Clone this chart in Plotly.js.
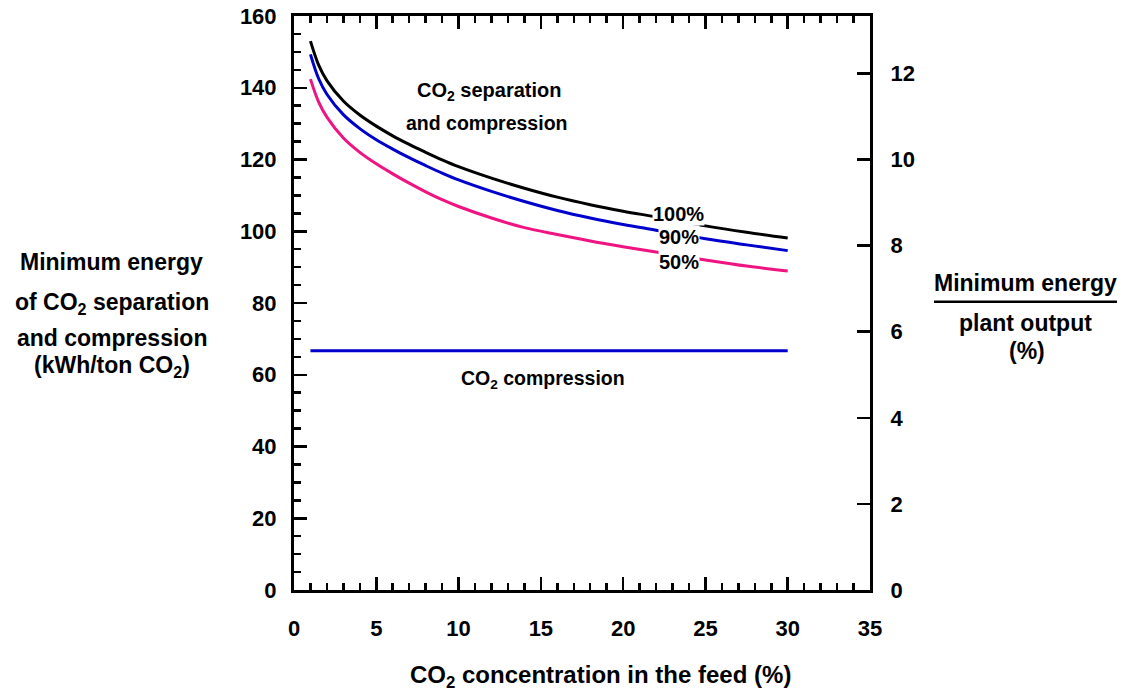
<!DOCTYPE html>
<html>
<head>
<meta charset="utf-8">
<script src="https://cdn.plot.ly/plotly-3.0.1.min.js"></script>
<style>
  html, body { margin: 0; padding: 0; background: #fff; }
  #chart { width: 1127px; height: 691px; }
</style>
</head>
<body>
<div id="chart"></div>
<script>
// CO2 concentration in the feed (%)
const feedConc = [1, 1.5, 2, 3, 4, 5, 6, 7, 8, 9, 10, 12, 14, 16, 18, 20, 22, 25, 27.5, 30];
// Minimum energy of CO2 separation and compression (kWh/ton CO2), by capture rate
const capture100 = [153.0, 146.3, 142.0, 136.3, 132.4, 129.3, 126.6, 124.2, 122.0, 119.9, 118.0, 114.8, 112.0, 109.5, 107.4, 105.6, 104.0, 101.5, 99.7, 98.1];
const capture90  = [149.3, 142.5, 138.2, 132.5, 128.6, 125.5, 122.9, 120.5, 118.3, 116.2, 114.3, 111.1, 108.3, 105.8, 103.7, 101.9, 100.3, 97.9, 96.2, 94.6];
const capture50  = [142.4, 136.0, 131.8, 126.0, 122.0, 118.8, 116.0, 113.4, 111.0, 108.8, 106.9, 103.7, 101.0, 99.1, 97.3, 95.7, 94.2, 92.0, 90.3, 88.9];
// CO2 compression only
const compressionX = [1, 30];
const compressionY = [66.7, 66.7];
// Series labels
const seriesLabels = ["100%", "90%", "50%"];

const FONT = "Arial, 'Liberation Sans', Helvetica, sans-serif";
const lineW = 3;

const traces = [
  {x: feedConc, y: capture100, mode: "lines", line: {color: "#000000", width: lineW, shape: "spline"}, name: seriesLabels[0]},
  {x: feedConc, y: capture90, mode: "lines", line: {color: "#0000cc", width: lineW, shape: "spline"}, name: seriesLabels[1]},
  {x: feedConc, y: capture50, mode: "lines", line: {color: "#f01482", width: lineW, shape: "spline"}, name: seriesLabels[2]},
  {x: compressionX, y: compressionY, mode: "lines", line: {color: "#0000cc", width: lineW}, name: "CO2 compression"},
  // invisible trace to activate the right axis
  {x: [0], y: [0], yaxis: "y2", mode: "markers", marker: {opacity: 0}, hoverinfo: "skip", showlegend: false}
];

function ann(text, x, y, xref, yref, size, extra) {
  return Object.assign({
    text: text, x: x, y: y, xref: xref, yref: yref,
    showarrow: false, xanchor: "center", yanchor: "middle",
    font: {family: FONT, size: size, color: "#000", weight: "bold"}
  }, extra || {});
}

const annotations = [
  // left title
  ann("Minimum energy", -0.316, 0.5706, "paper", "paper", 23),
  ann("of CO<sub>2</sub> separation", -0.316, 0.4983, "paper", "paper", 23),
  ann("and compression", -0.316, 0.4382, "paper", "paper", 23),
  ann("(kWh/ton CO<sub>2</sub>)", -0.316, 0.3902, "paper", "paper", 23),
  // right title
  ann("Minimum energy", 1.2691, 0.5357, "paper", "paper", 23),
  ann("plant output", 1.2708, 0.4650, "paper", "paper", 23),
  ann("(%)", 1.2726, 0.4170, "paper", "paper", 23),
  // x title
  ann("CO<sub>2</sub> concentration in the feed (%)", 0.5321, -0.1515, "paper", "paper", 24),
  // in-plot labels
  ann("CO<sub>2</sub> separation", 11.85, 138.9, "x", "y", 20),
  ann("and compression", 11.70, 130.2, "x", "y", 19.5),
  ann("CO<sub>2</sub> compression", 15.15, 58.8, "x", "y", 19.5),
  ann(seriesLabels[0], 23.35, 104.8, "x", "y", 20, {bgcolor: "#fff", borderpad: 0}),
  ann(seriesLabels[1], 23.4, 98.26, "x", "y", 20, {bgcolor: "#fff", borderpad: 0}),
  ann(seriesLabels[2], 23.4, 91.43, "x", "y", 20, {bgcolor: "#fff", borderpad: 0})
];

const tickFont = {family: FONT, size: 22, color: "#000", weight: "bold"};

const layout = {
  width: 1127, height: 691,
  margin: {l: 294, r: 257, t: 16, b: 101, pad: 0},
  paper_bgcolor: "#fff", plot_bgcolor: "#fff",
  showlegend: false,
  font: {family: FONT, color: "#000"},
  xaxis: {
    range: [0, 35], dtick: 5, tick0: 0,
    showgrid: false, zeroline: false,
    showline: true, linecolor: "#000", linewidth: 3, mirror: "ticks",
    ticks: "inside", ticklen: 13, tickwidth: 2.5, tickcolor: "#000",
    minor: {dtick: 1, ticks: "inside", ticklen: 7, tickwidth: 2.5, tickcolor: "#000", showgrid: false},
    tickfont: tickFont, ticklabelstandoff: 17
  },
  yaxis: {
    range: [0, 160], dtick: 20, tick0: 0,
    showgrid: false, zeroline: false,
    showline: true, linecolor: "#000", linewidth: 3, mirror: false,
    ticks: "inside", ticklen: 13, tickwidth: 2.5, tickcolor: "#000",
    minor: {dtick: 5, ticks: "inside", ticklen: 7, tickwidth: 2.5, tickcolor: "#000", showgrid: false},
    tickfont: tickFont, ticklabelstandoff: 10
  },
  yaxis2: {
    overlaying: "y", side: "right",
    range: [0, 160 / 12], dtick: 2, tick0: 0,
    showgrid: false, zeroline: false,
    showline: true, linecolor: "#000", linewidth: 3,
    ticks: "inside", ticklen: 13, tickwidth: 2.5, tickcolor: "#000",
    tickfont: tickFont, ticklabelstandoff: 13
  },
  annotations: annotations,
  shapes: [
    {type: "line", xref: "paper", yref: "paper", x0: 1.1111, x1: 1.4288, y0: 0.5023, y1: 0.5023,
     line: {color: "#000", width: 2.5}}
  ]
};

Plotly.newPlot("chart", traces, layout, {staticPlot: true, displayModeBar: false});
</script>
</body>
</html>
